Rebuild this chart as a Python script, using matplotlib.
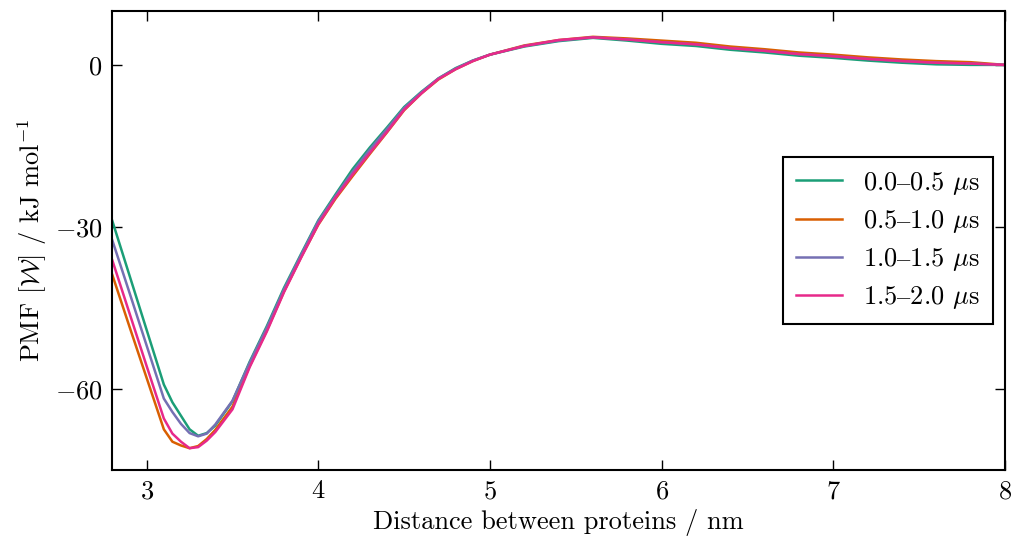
import matplotlib
matplotlib.use("Agg")
import matplotlib.pyplot as plt

plt.rcParams['font.family'] = ['cmr10', 'DejaVu Serif']
plt.rcParams['mathtext.fontset'] = 'cm'
plt.rcParams['axes.formatter.use_mathtext'] = True

# distance grid (nm)
distance = [2.8, 2.9, 3.0, 3.1, 3.15, 3.2, 3.25, 3.3, 3.35, 3.4, 3.5, 3.6, 3.7,
            3.8, 3.9, 4.0, 4.1, 4.2, 4.3, 4.4, 4.5, 4.6, 4.7, 4.8, 4.9, 5.0,
            5.2, 5.4, 5.6, 5.8, 6.0, 6.2, 6.4, 6.6, 6.8, 7.0, 7.2, 7.4, 7.6,
            7.8, 8.0]

# PMF per time window (kJ/mol)
pmf_00_05 = [-28.9, -39.0, -49.1, -59.2, -62.5, -65.0, -67.5, -68.7, -68.2, -66.8,
             -62.3, -55.0, -48.4, -41.3, -35.0, -28.8, -24.0, -19.3, -15.3, -11.6,
             -7.8, -5.0, -2.5, -0.6, 0.8, 1.9, 3.4, 4.4, 5.0, 4.5, 3.9, 3.5, 2.8,
             2.3, 1.7, 1.3, 0.8, 0.4, 0.1, 0.0, 0.0]
pmf_05_10 = [-38.9, -48.5, -58.0, -67.5, -69.8, -70.5, -71.0, -70.6, -69.3, -67.6,
             -63.3, -55.8, -49.2, -42.0, -35.6, -29.6, -24.8, -20.6, -16.5, -12.5,
             -8.4, -5.3, -2.7, -0.8, 0.7, 1.9, 3.6, 4.6, 5.2, 4.9, 4.5, 4.1, 3.4,
             2.9, 2.3, 1.9, 1.4, 1.0, 0.7, 0.5, 0.0]
pmf_10_15 = [-32.5, -42.2, -52.0, -61.8, -64.3, -66.5, -68.2, -68.8, -68.3, -66.6,
             -62.2, -55.2, -48.7, -41.6, -35.2, -29.0, -24.3, -19.8, -15.7, -11.9,
             -8.0, -5.1, -2.5, -0.7, 0.8, 1.9, 3.5, 4.5, 5.1, 4.7, 4.2, 3.8, 3.1,
             2.6, 2.0, 1.6, 1.1, 0.7, 0.4, 0.25, 0.0]
pmf_15_20 = [-36.2, -46.0, -55.8, -65.5, -68.3, -69.8, -71.0, -70.8, -69.6, -68.0,
             -63.8, -56.0, -49.4, -42.1, -35.7, -29.5, -24.6, -20.3, -16.3, -12.4,
             -8.3, -5.3, -2.6, -0.8, 0.7, 1.9, 3.5, 4.6, 5.1, 4.7, 4.2, 3.8, 3.1,
             2.6, 2.0, 1.6, 1.1, 0.7, 0.4, 0.25, 0.0]

labels = [r'0.0$\text{–}$0.5 $\mu$s', r'0.5$\text{–}$1.0 $\mu$s',
          r'1.0$\text{–}$1.5 $\mu$s', r'1.5$\text{–}$2.0 $\mu$s']
colors = ['#1b9e77', '#d95f02', '#7570b3', '#e7298a']

fig = plt.figure(figsize=(10.12, 5.45), dpi=100)
ax = fig.add_axes([0.111, 0.138, 0.882, 0.842])

for series, label, color in zip([pmf_00_05, pmf_05_10, pmf_10_15, pmf_15_20], labels, colors):
    ax.plot(distance, series, color=color, lw=1.8, label=label)

ax.set_xlim(2.8, 8)
ax.set_ylim(-75, 10)
ax.set_xticks([3, 4, 5, 6, 7, 8])
ax.set_yticks([-60, -30, 0])
ax.tick_params(direction='in', top=True, right=True, length=7, width=1,
               labelsize=19, pad=7)
for spine in ax.spines.values():
    spine.set_linewidth(1.5)

ax.set_xlabel('Distance between proteins / nm', fontsize=19)
ax.set_ylabel('PMF [$\\mathcal{W}$] / kJ mol$^{-1}$', fontsize=19)

leg = ax.legend(loc='center right', fontsize=19, fancybox=False, framealpha=1,
                edgecolor='black', handlelength=1.73, handletextpad=0.8,
                labelspacing=0.42, borderpad=0.5, borderaxespad=0.45)
leg.get_frame().set_linewidth(1.5)

fig.savefig('out.png', dpi=100)
